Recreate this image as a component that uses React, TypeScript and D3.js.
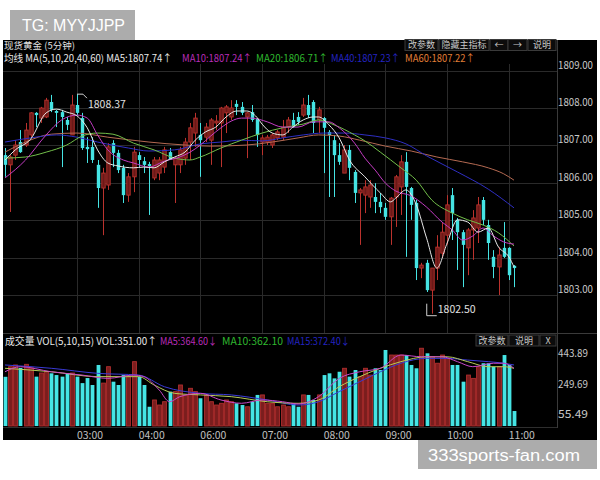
import * as d3 from "d3";

// 5-minute spot gold candles, index 0..99 (03:00 = index 14)
const open = [
  1806.74, 1806.48, 1806.74, 1807.09, 1807.01, 1807.28, 1807.87, 1807.73, 1807.76, 1808.16,
  1807.92, 1807.89, 1807.68, 1807.28, 1808.08, 1807.73, 1806.96, 1806.96, 1806.48, 1805.86,
  1805.94, 1807.06, 1806.8, 1806.4, 1805.67, 1806.16, 1806.74, 1806.58, 1806.5, 1806.13,
  1806.26, 1806.42, 1806.82, 1806.48, 1806.48, 1806.66, 1807.09, 1807.33, 1807.28, 1807.22,
  1807.14, 1807.6, 1807.6, 1807.87, 1807.76, 1808.11, 1808.03, 1807.76, 1807.89, 1807.71,
  1807.09, 1807.09, 1807.01, 1807.2, 1807.22, 1807.49, 1807.68, 1807.76, 1807.81, 1808.08,
  1808.16, 1807.68, 1807.73, 1807.36, 1807.14, 1806.74, 1806.26, 1806.88, 1806.29, 1805.73,
  1805.67, 1805.62, 1805.62, 1805.49, 1805.33, 1805.09, 1805.62, 1805.89, 1806.56, 1805.86,
  1805.46, 1803.72, 1803.86, 1803.13, 1803.72, 1804.12, 1804.6, 1805.67, 1805.01, 1804.68,
  1804.26, 1804.74, 1804.79, 1805.54, 1804.87, 1804.02, 1803.75, 1804.26, 1804.26, 1803.78,
];
const high = [
  1806.93, 1806.74, 1807.14, 1807.41, 1807.6, 1807.89, 1807.89, 1808.03, 1808.27, 1808.35,
  1807.95, 1807.95, 1807.76, 1808.35, 1808.37, 1807.87, 1807.22, 1807.22, 1806.61, 1806.4,
  1807.06, 1807.14, 1806.88, 1806.48, 1806.26, 1806.96, 1806.82, 1806.69, 1806.56, 1806.69,
  1806.69, 1806.96, 1806.93, 1806.69, 1806.96, 1807.2, 1807.6, 1807.87, 1807.6, 1807.6,
  1807.73, 1807.81, 1808.03, 1808.08, 1808.21, 1808.21, 1808.16, 1807.89, 1808.08, 1807.73,
  1807.28, 1807.28, 1807.33, 1807.41, 1807.68, 1807.76, 1807.87, 1807.89, 1808.27, 1808.35,
  1808.21, 1808.03, 1807.76, 1807.41, 1807.28, 1807.06, 1807.01, 1807.01, 1806.34, 1805.86,
  1806.07, 1806.07, 1805.99, 1805.73, 1805.46, 1805.62, 1806.21, 1806.74, 1806.82, 1805.89,
  1805.54, 1803.86, 1803.94, 1803.72, 1804.6, 1804.93, 1805.67, 1805.86, 1805.06, 1804.74,
  1804.79, 1805.27, 1805.62, 1805.62, 1805.01, 1804.2, 1804.28, 1804.95, 1804.28, 1803.8,
];
const low = [
  1806.16, 1805.22, 1806.61, 1806.8, 1806.96, 1807.2, 1807.49, 1807.6, 1807.73, 1807.89,
  1807.49, 1806.42, 1807.41, 1807.28, 1807.81, 1806.88, 1806.53, 1806.53, 1805.33, 1804.6,
  1805.81, 1806.42, 1806.26, 1805.46, 1805.49, 1805.75, 1806.42, 1806.26, 1805.14, 1806.07,
  1806.07, 1806.26, 1806.61, 1805.46, 1806.26, 1806.48, 1806.61, 1806.96, 1806.16, 1807.09,
  1806.48, 1807.41, 1806.42, 1807.33, 1807.68, 1807.81, 1807.81, 1806.66, 1807.63, 1806.96,
  1806.74, 1807.01, 1806.93, 1807.14, 1807.14, 1807.33, 1807.47, 1807.55, 1807.76, 1807.73,
  1807.33, 1807.33, 1806.26, 1805.62, 1805.62, 1806.48, 1806.26, 1806.07, 1805.46, 1804.34,
  1805.19, 1805.33, 1805.19, 1805.19, 1805.01, 1804.34, 1804.82, 1805.14, 1804.02, 1805.01,
  1803.4, 1803.45, 1803.08, 1802.5, 1803.4, 1803.99, 1804.34, 1804.47, 1803.67, 1803.21,
  1803.53, 1803.94, 1804.39, 1804.87, 1803.94, 1803.45, 1803.0, 1803.99, 1803.4, 1803.21,
];
const close = [
  1806.48, 1806.69, 1807.01, 1806.82, 1807.41, 1807.87, 1807.81, 1808.0, 1808.21, 1807.95,
  1807.87, 1807.76, 1807.55, 1808.08, 1807.87, 1806.93, 1806.9, 1806.61, 1805.86, 1806.26,
  1806.96, 1806.8, 1806.34, 1805.67, 1806.16, 1806.82, 1806.61, 1806.48, 1806.45, 1806.61,
  1806.61, 1806.88, 1806.61, 1806.66, 1806.88, 1807.09, 1807.47, 1807.73, 1807.14, 1807.49,
  1807.68, 1807.65, 1808.0, 1808.03, 1808.0, 1808.03, 1807.87, 1807.87, 1807.68, 1807.28,
  1807.2, 1807.22, 1807.28, 1807.36, 1807.49, 1807.68, 1807.49, 1807.63, 1808.08, 1807.81,
  1807.6, 1807.95, 1807.47, 1807.28, 1806.74, 1806.56, 1806.88, 1806.4, 1805.73, 1805.81,
  1805.89, 1805.94, 1805.49, 1805.35, 1805.09, 1805.59, 1806.16, 1806.56, 1805.89, 1805.41,
  1803.72, 1803.8, 1803.13, 1803.72, 1804.28, 1804.68, 1805.41, 1805.19, 1804.68, 1804.34,
  1804.74, 1805.06, 1805.41, 1805.01, 1804.39, 1803.75, 1804.07, 1804.02, 1803.53, 1803.72,
];
const volume = [
  312, 376, 387, 368, 391, 368, 313, 336, 344, 334,
  323, 313, 336, 336, 313, 272, 304, 260, 387, 272,
  376, 281, 260, 323, 313, 408, 313, 260, 122, 165,
  133, 154, 218, 218, 260, 197, 239, 218, 176, 197,
  154, 133, 144, 165, 154, 144, 133, 122, 154, 197,
  197, 144, 144, 122, 133, 122, 144, 122, 197, 197,
  165, 197, 323, 334, 302, 344, 366, 313, 355, 313,
  366, 323, 366, 355, 482, 450, 450, 450, 450, 387,
  366, 493, 461, 440, 398, 450, 429, 387, 387, 281,
  323, 302, 376, 398, 398, 376, 376, 450, 387, 95,
];

// moving average lines as [candle index, value]
const ma5: [number, number][] = [
  [0, 1806.61], [2, 1806.88], [5, 1807.17], [8, 1807.87], [10, 1807.97], [12, 1807.89], [14, 1807.79],
  [16, 1807.47], [18, 1806.88], [20, 1806.53], [22, 1806.45], [25, 1806.4], [27, 1806.42], [29, 1806.4],
  [31, 1806.56], [33, 1806.69], [35, 1806.82], [37, 1807.14], [39, 1807.36], [41, 1807.49], [43, 1807.76],
  [45, 1807.92], [47, 1807.92], [49, 1807.75], [50, 1807.57], [52, 1807.33], [54, 1807.28], [56, 1807.49],
  [58, 1807.68], [60, 1807.76], [61, 1807.76], [63, 1807.55], [65, 1807.2], [67, 1806.61], [70, 1806.16],
  [73, 1805.73], [75, 1805.49], [76, 1805.59], [78, 1805.81], [80, 1805.41], [82, 1804.52], [84, 1803.72],
  [86, 1804.39], [88, 1805.01], [90, 1804.95], [92, 1804.68], [94, 1804.79], [96, 1804.28], [98, 1804.02],
  [99, 1803.75],
];
const ma10: [number, number][] = [
  [0, 1806.13], [4, 1806.61], [8, 1807.28], [11, 1807.68], [14, 1807.81], [16, 1807.73], [18, 1807.28],
  [20, 1806.88], [23, 1806.61], [25, 1806.53], [28, 1806.42], [31, 1806.58], [34, 1806.69], [36, 1806.82],
  [38, 1807.01], [40, 1807.25], [42, 1807.47], [44, 1807.65], [46, 1807.73], [48, 1807.73], [51, 1807.63],
  [54, 1807.49], [57, 1807.49], [60, 1807.63], [63, 1807.63], [65, 1807.47], [68, 1807.06], [70, 1806.66],
  [72, 1806.34], [74, 1805.99], [76, 1805.78], [79, 1805.65], [82, 1805.35], [85, 1804.95], [87, 1804.74],
  [89, 1804.47], [91, 1804.58], [93, 1804.79], [95, 1804.58], [97, 1804.42], [99, 1804.36],
];
const ma20: [number, number][] = [
  [0, 1806.66], [4, 1806.69], [8, 1806.82], [12, 1807.01], [15, 1807.25], [18, 1807.33], [21, 1807.3],
  [25, 1807.06], [29, 1806.88], [33, 1806.66], [36, 1806.61], [38, 1806.69], [42, 1806.93], [46, 1807.14],
  [50, 1807.33], [54, 1807.47], [58, 1807.57], [61, 1807.68], [64, 1807.55], [68, 1807.28], [70, 1807.12],
  [73, 1806.82], [77, 1806.4], [80, 1806.07], [83, 1805.54], [87, 1805.19], [90, 1805.01], [93, 1804.87],
  [96, 1804.66], [99, 1804.31],
];
const ma40: [number, number][] = [
  [0, 1807.09], [5, 1807.2], [10, 1807.28], [14, 1807.22], [18, 1807.09], [24, 1806.93], [28, 1806.85],
  [33, 1806.88], [38, 1807.04], [42, 1807.09], [46, 1807.14], [50, 1807.12], [54, 1807.2], [58, 1807.28],
  [62, 1807.33], [66, 1807.33], [70, 1807.28], [74, 1807.2], [78, 1807.04], [82, 1806.72], [88, 1806.29],
  [94, 1805.83], [99, 1805.33],
];
const ma60: [number, number][] = [
  [0, 1806.82], [4, 1807.09], [9, 1807.3], [14, 1807.33], [20, 1807.22], [28, 1807.09], [35, 1807.01],
  [40, 1806.98], [47, 1807.01], [52, 1807.09], [57, 1807.2], [61, 1807.28], [65, 1807.25], [69, 1807.14],
  [74, 1806.98], [79, 1806.85], [84, 1806.69], [89, 1806.56], [94, 1806.4], [97, 1806.24], [99, 1806.07],
];
const volMa5: [number, number][] = [
  [0, 344], [3, 376], [9, 344], [15, 323], [20, 302], [25, 323], [27, 313], [30, 228], [32, 154], [34, 186],
  [38, 207], [42, 165], [46, 144], [50, 165], [54, 154], [57, 140], [61, 186], [65, 302], [69, 344],
  [73, 366], [77, 450], [81, 439], [85, 439], [88, 408], [91, 376], [95, 398], [97, 398], [99, 366],
];
const volMa10: [number, number][] = [
  [0, 366], [9, 344], [18, 313], [26, 313], [29, 260], [33, 207], [38, 197], [44, 186], [51, 154],
  [57, 144], [61, 165], [65, 249], [69, 313], [73, 366], [77, 408], [82, 439], [86, 439], [90, 408],
  [94, 376], [97, 376], [99, 366],
];
const volMa15: [number, number][] = [
  [0, 387], [9, 366], [18, 334], [26, 323], [31, 249], [38, 207], [44, 197], [51, 165], [57, 133],
  [61, 154], [65, 218], [69, 281], [73, 344], [77, 398], [82, 429], [86, 429], [90, 418], [94, 408],
  [97, 398], [99, 387],
];

const timeLabels = ["03:00", "04:00", "06:00", "07:00", "08:00", "09:00", "10:00", "11:00"];
const timeIndex = [14, 26, 38, 50, 62, 74, 86, 98];
const priceTicks = [1803, 1804, 1805, 1806, 1807, 1808, 1809];
const volTicks = [443.89, 249.69, 55.49];

const FONT = "'Noto Sans CJK SC', 'Noto Sans', sans-serif";
const RED = "#bb322d";
const RED_FILL = "#6a1917";
const CYAN = "#45e4e4";
const GRID = "#2a2a2a";

export default function App() {
  const x = d3.scaleLinear().domain([0, 99]).range([5, 514]);
  const y = d3.scaleLinear().domain([1803, 1808]).range([295, 108]);
  const yv = d3.scaleLinear().domain([0, 443.89]).range([426, 356]);

  const priceLine = d3
    .line<[number, number]>()
    .x((d) => x(d[0]))
    .y((d) => y(d[1]))
    .curve(d3.curveMonotoneX);
  const volLine = d3
    .line<[number, number]>()
    .x((d) => x(d[0]))
    .y((d) => yv(d[1]))
    .curve(d3.curveMonotoneX);

  const bw = 3.4; // candle body width
  const iMax = d3.maxIndex(high);
  const iMin = d3.minIndex(low);

  const button = (bx: number, by: number, w: number, label: string) => (
    <g key={label + bx}>
      <rect x={bx} y={by} width={w} height={11} fill="#0c0c0c" stroke="#3a3a3a" />
      <text x={bx + w / 2} y={by + 8.5} textAnchor="middle" fontSize={9} fill="#c8c8c8">
        {label}
      </text>
    </g>
  );

  return (
    <div style={{ position: "absolute", left: 0, top: 0 }}>
      <svg width={600} height={480} fontFamily={FONT} style={{ display: "block", background: "#fff" }}>
        {/* chart background */}
        <rect x={3} y={40} width={594} height={400} fill="#000" />

        {/* horizontal price grid */}
        {priceTicks.map((p) => (
          <line key={p} x1={3} x2={557} y1={Math.round(y(p)) + 0.5} y2={Math.round(y(p)) + 0.5} stroke={GRID} />
        ))}
        {/* vertical time grid */}
        {timeIndex.map((i) => (
          <line key={i} x1={Math.round(x(i)) + 0.5} x2={Math.round(x(i)) + 0.5} y1={64} y2={333} stroke={GRID} />
        ))}

        {/* panel frame */}
        <line x1={557.5} x2={557.5} y1={40} y2={428} stroke="#3a3a3a" />
        <line x1={3} x2={597} y1={333.5} y2={333.5} stroke="#3a3a3a" />
        <line x1={3} x2={557} y1={427.5} y2={427.5} stroke="#2e2e2e" />

        {/* candles */}
        {open.map((o, i) => {
          const c = close[i];
          const up = c > o;
          const cx = Math.round(x(i)) + 0.5;
          const top = y(Math.max(o, c));
          const h = Math.max(1, y(Math.min(o, c)) - top);
          return (
            <g key={i}>
              <line x1={cx} x2={cx} y1={y(high[i])} y2={y(low[i])} stroke={up ? RED : CYAN} />
              <rect
                x={cx - bw / 2}
                y={top}
                width={bw}
                height={h}
                fill={up ? RED_FILL : CYAN}
                stroke={up ? RED : "none"}
                strokeWidth={0.9}
              />
            </g>
          );
        })}

        {/* moving averages */}
        <g fill="none" strokeWidth={1}>
          <path d={priceLine(ma60) || ""} stroke="#b56a52" />
          <path d={priceLine(ma40) || ""} stroke="#2f2fc4" />
          <path d={priceLine(ma20) || ""} stroke="#72bf4a" />
          <path d={priceLine(ma10) || ""} stroke="#c43cc4" />
          <path d={priceLine(ma5) || ""} stroke="#e8e8e8" />
        </g>

        {/* max / min markers */}
        <g stroke="#cfcfcf" fill="none">
          <path d={`M${x(iMax)},${y(high[iMax])}h6l4,4`} />
          <path d={`M${x(iMin) - 5},${y(low[iMin]) - 10}v12h10`} />
        </g>
        <text x={x(iMax) + 11} y={y(high[iMax]) + 14} fontSize={10.5} fill="#e0e0e0">
          {high[iMax].toFixed(2)}
        </text>
        <text x={x(iMin) + 6} y={y(low[iMin]) - 1} fontSize={10.5} fill="#e0e0e0">
          {low[iMin].toFixed(2)}
        </text>

        {/* price axis labels */}
        {priceTicks.map((p) => (
          <text key={p} x={558} y={y(p) - 2} fontSize={11} fill="#c8c8c8" textLength={35} lengthAdjust="spacingAndGlyphs">
            {p.toFixed(2)}
          </text>
        ))}

        {/* main header */}
        <text x={4} y={48.5} fontSize={9.5} fill="#e0e0e0" textLength={71} lengthAdjust="spacingAndGlyphs">
          现货黄金 (5分钟)
        </text>
        <text x={4} y={62} fontSize={10} fill="#e8e8e8" textLength={168} lengthAdjust="spacingAndGlyphs">
          均线 MA(5,10,20,40,60) MA5:1807.74↑
        </text>
        <text x={182} y={62} fontSize={10} fill="#b82cb8" textLength={70} lengthAdjust="spacingAndGlyphs">
          MA10:1807.24↑
        </text>
        <text x={256} y={62} fontSize={10} fill="#2fb82f" textLength={72} lengthAdjust="spacingAndGlyphs">
          MA20:1806.71↑
        </text>
        <text x={331} y={62} fontSize={10} fill="#2424c0" textLength={69} lengthAdjust="spacingAndGlyphs">
          MA40:1807.23↑
        </text>
        <text x={405} y={62} fontSize={10} fill="#e07e36" textLength={70} lengthAdjust="spacingAndGlyphs">
          MA60:1807.22↑
        </text>
        {button(405, 39.5, 33, "改参数")}
        {button(439, 39.5, 50, "隐藏主指标")}
        {button(490, 39.5, 18, "←")}
        {button(508, 39.5, 19, "→")}
        {button(528, 39.5, 28, "说明")}

        {/* volume bars */}
        {volume.map((v, i) => {
          const up = close[i] > open[i];
          const cx = Math.round(x(i)) + 0.5;
          return (
            <rect
              key={i}
              x={cx - 1.9}
              y={yv(v)}
              width={3.8}
              height={yv(0) - yv(v)}
              fill={up ? "#7a1e1e" : CYAN}
              stroke={up ? "#b22e2e" : "none"}
              strokeWidth={0.9}
            />
          );
        })}
        <g fill="none" strokeWidth={1}>
          <path d={volLine(volMa15) || ""} stroke="#3a3ad6" />
          <path d={volLine(volMa10) || ""} stroke="#b8cc58" />
          <path d={volLine(volMa5) || ""} stroke="#c848c8" />
        </g>

        {/* volume axis labels */}
        {volTicks.map((v) => (
          <text key={v} x={558} y={yv(v) + 1} fontSize={11} fill="#c8c8c8" textLength={30} lengthAdjust="spacingAndGlyphs">
            {v.toFixed(2)}
          </text>
        ))}

        {/* volume header */}
        <text x={5} y={345} fontSize={10} fill="#e8e8e8" textLength={152} lengthAdjust="spacingAndGlyphs">
          成交量 VOL(5,10,15) VOL:351.00↑
        </text>
        <text x={160} y={345} fontSize={10} fill="#b82cb8" textLength={57} lengthAdjust="spacingAndGlyphs">
          MA5:364.60↓
        </text>
        <text x={222} y={345} fontSize={10} fill="#2fb82f" textLength={61} lengthAdjust="spacingAndGlyphs">
          MA10:362.10
        </text>
        <text x={287} y={345} fontSize={10} fill="#2424c0" textLength={63} lengthAdjust="spacingAndGlyphs">
          MA15:372.40↓
        </text>
        {button(476, 335, 32, "改参数")}
        {button(509, 335, 30, "说明")}
        {button(540, 335, 16, "X")}

        {/* time axis */}
        {timeLabels.map((t, k) => (
          <text key={t} x={x(timeIndex[k])} y={439} fontSize={11} fill="#c0c0c0" textLength={26} lengthAdjust="spacingAndGlyphs">
            {t}
          </text>
        ))}

        {/* watermarks */}
        <rect x={10} y={10} width={125} height={30} fill="#acacac" />
        <text x={22} y={31} fontSize={17} fill="#fff" fontFamily="'Liberation Sans', sans-serif" textLength={103} lengthAdjust="spacingAndGlyphs">
          TG: MYYJJPP
        </text>
        <rect x={418} y={440} width={179} height={29} fill="#acacac" />
        <text x={428} y={461} fontSize={16} fill="#fff" fontFamily="'Liberation Sans', sans-serif" textLength={152} lengthAdjust="spacingAndGlyphs">
          333sports-fan.com
        </text>
      </svg>
    </div>
  );
}
